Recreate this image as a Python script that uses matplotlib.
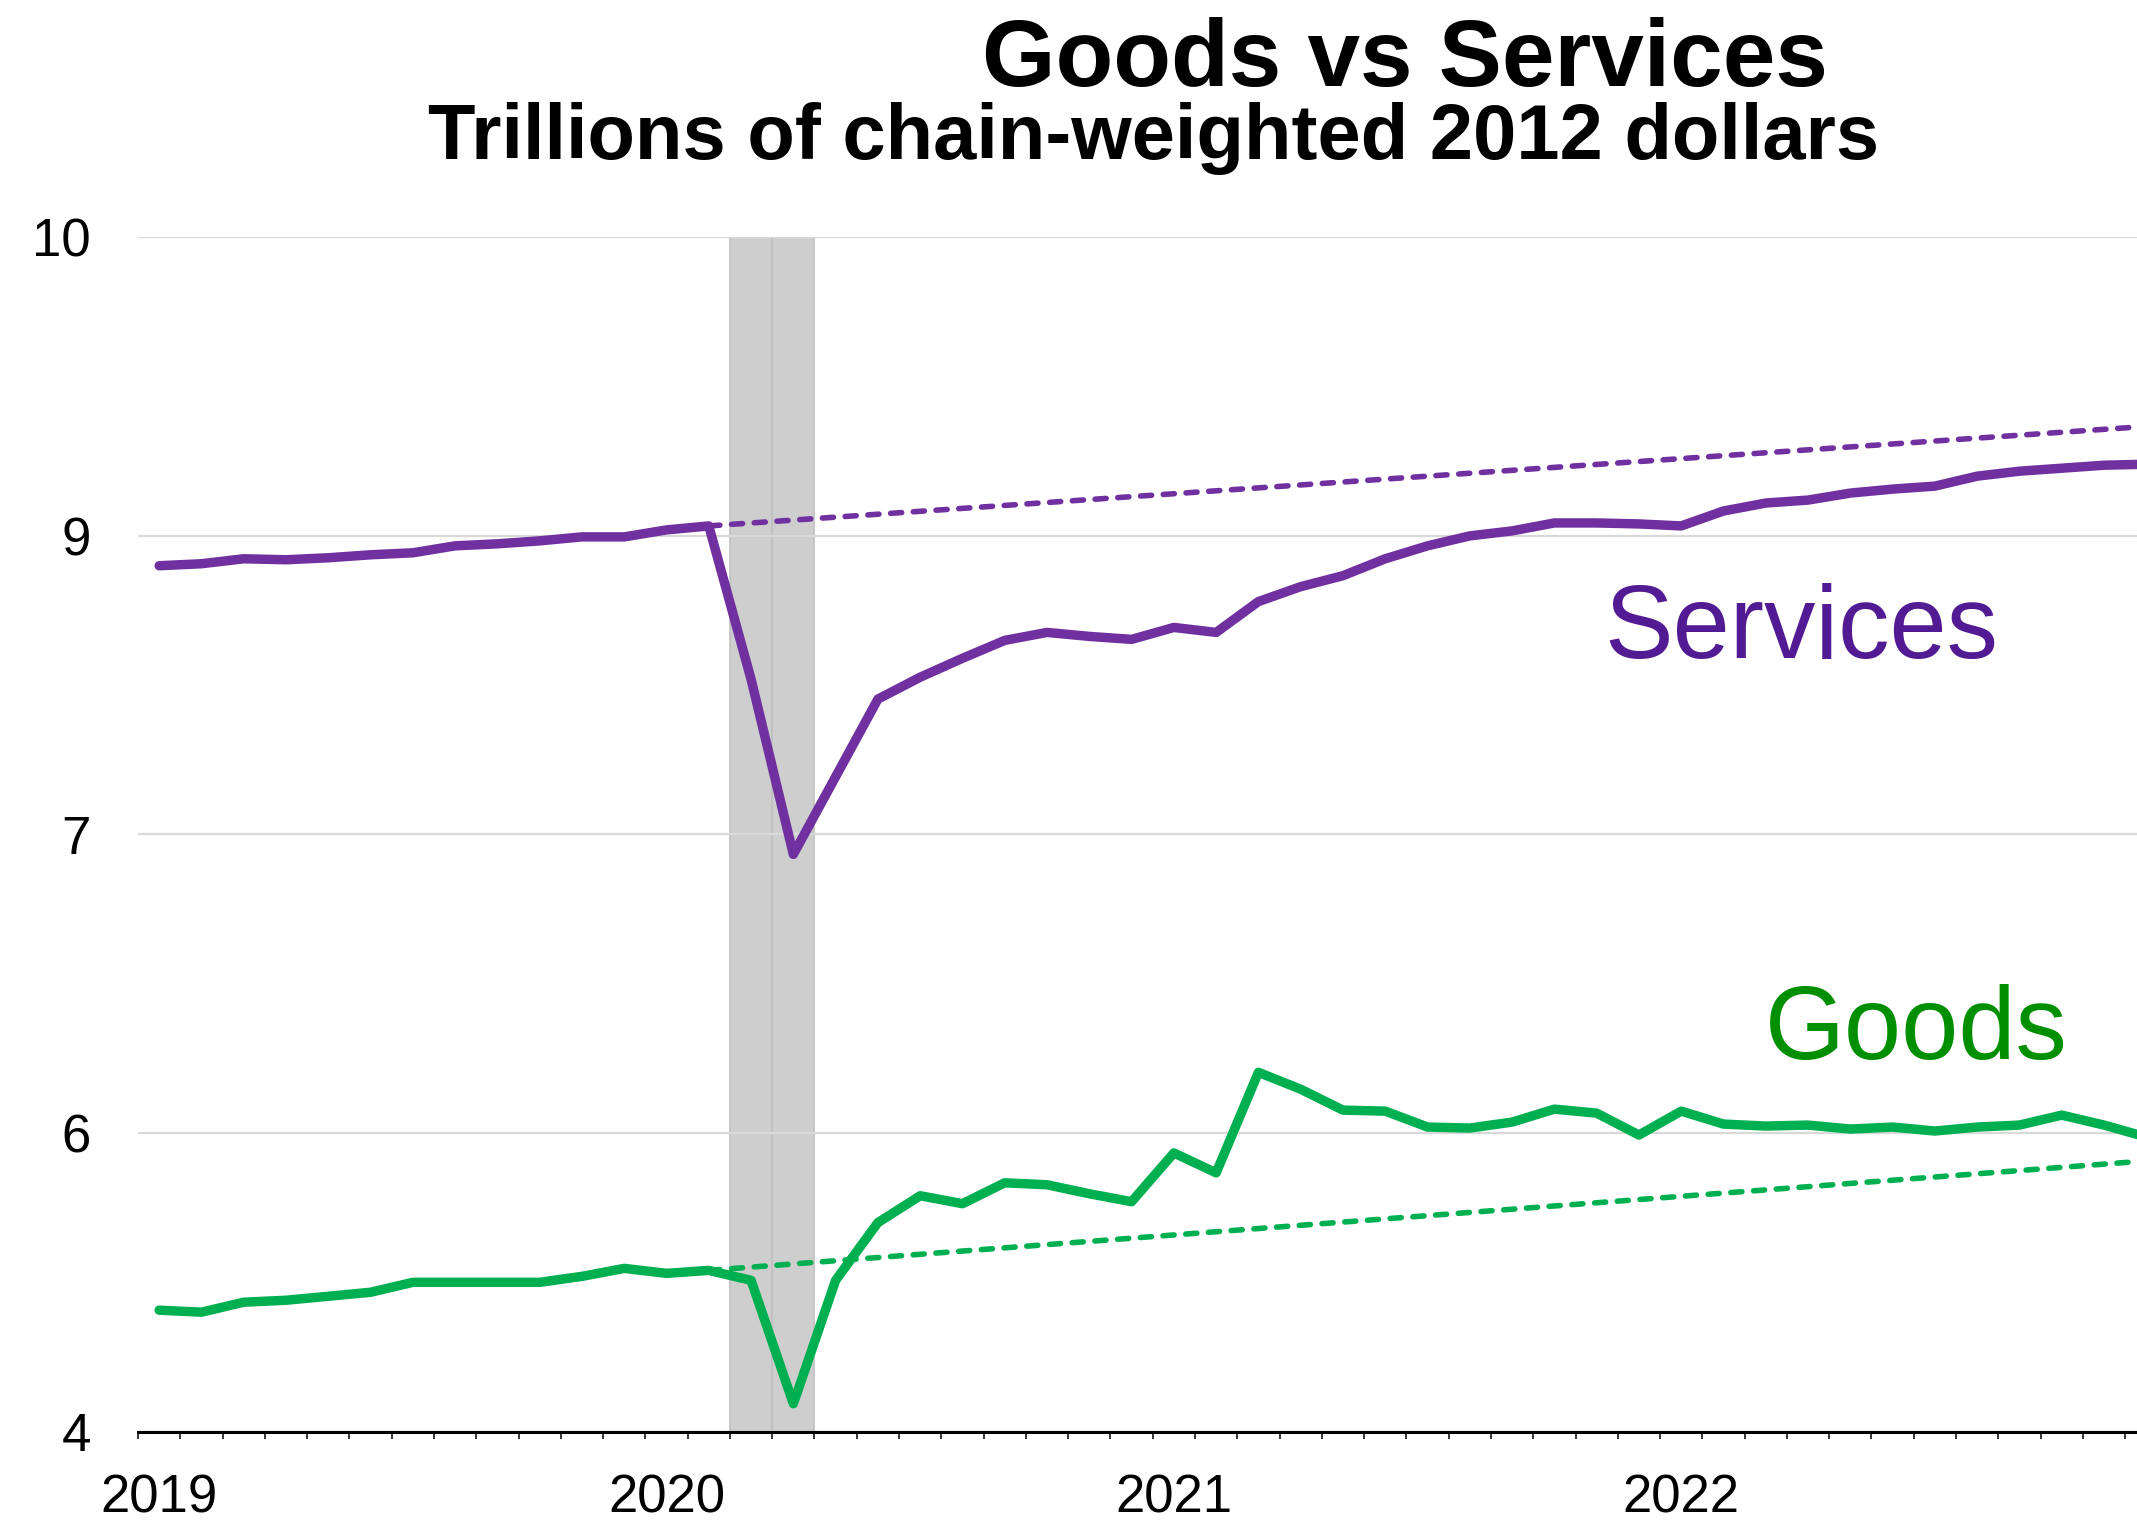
import numpy as np
import matplotlib.pyplot as plt
from matplotlib.ticker import FixedLocator, FuncFormatter

plt.rcParams['font.family'] = ['Liberation Sans', 'DejaVu Sans']

# monthly real PCE, Jan 2019 - Dec 2022, trillions of chained 2012 dollars
months = np.arange(48)
year_labels = ['2019', '2020', '2021', '2022']
year_pos = [0, 12, 24, 36]

services = [8.35, 8.36, 8.385, 8.38, 8.39, 8.405, 8.415, 8.45, 8.46, 8.475, 8.495, 8.495,
            8.53, 8.55, 7.78, 6.90, 7.29, 7.68, 7.79, 7.885, 7.975, 8.015, 7.995, 7.98,
            8.04, 8.015, 8.17, 8.245, 8.30, 8.385, 8.45, 8.50, 8.525, 8.565, 8.565, 8.56,
            8.55, 8.625, 8.665, 8.68, 8.715, 8.735, 8.75, 8.80, 8.825, 8.84, 8.855, 8.86]

goods = [4.61, 4.60, 4.65, 4.66, 4.68, 4.70, 4.75, 4.75, 4.75, 4.75, 4.78, 4.82,
         4.795, 4.81, 4.76, 4.14, 4.76, 5.05, 5.185, 5.145, 5.25, 5.24, 5.195, 5.155,
         5.40, 5.30, 5.805, 5.72, 5.615, 5.61, 5.53, 5.525, 5.555, 5.62, 5.60, 5.49,
         5.61, 5.545, 5.535, 5.54, 5.52, 5.53, 5.51, 5.53, 5.54, 5.59, 5.54, 5.48]

# pre-pandemic trend lines, Feb 2020 -> Dec 2022
trend_x = [13, 47]
services_trend = [8.55, 9.05]
goods_trend = [4.81, 5.36]

# recession months (Mar, Apr 2020)
recession = [14, 15]

svc_color = '#7030a0'
gds_color = '#00b050'

fig = plt.figure(figsize=(21.37, 15.3), dpi=100)
ax = fig.add_axes([0.06458, 0.06431, 0.93542, 0.78059])

for m in recession:
    ax.axvspan(m - 0.5, m + 0.5, color='#cecece', ec='#c0c0c0', lw=1.2, zorder=0.5)

ax.plot(trend_x, services_trend, color=svc_color, lw=4, dashes=(2, 2.1),
        dash_capstyle='round', zorder=2)
ax.plot(trend_x, goods_trend, color=gds_color, lw=4, dashes=(2, 2.1),
        dash_capstyle='round', zorder=2)
ax.plot(months, services, color=svc_color, lw=6.8, solid_capstyle='round',
        solid_joinstyle='round', zorder=3)
ax.plot(months, goods, color=gds_color, lw=6.8, solid_capstyle='round',
        solid_joinstyle='round', zorder=3)

ax.text(34.19, 7.886, 'Services', color='#531b93', fontsize=74, va='baseline')
ax.text(37.97, 5.872, 'Goods', color='#008f00', fontsize=74, va='baseline')

ax.set_xlim(-0.5, 46.78)
ax.set_ylim(4, 10)

ax.yaxis.set_major_locator(FixedLocator([4, 5.5, 7, 8.5, 10]))
ax.yaxis.set_major_formatter(FuncFormatter(lambda v, pos: str(int(v + 0.5))))
ax.grid(axis='y', color='#d9d9d9', lw=1.6, zorder=1)
ax.set_axisbelow(True)

ax.set_xticks(year_pos)
ax.set_xticklabels(year_labels)
ax.set_xticks(np.arange(-0.5, 47, 1), minor=True)
ax.tick_params(axis='x', which='major', length=0, pad=30, labelsize=38)
ax.tick_params(axis='x', which='minor', length=5, width=1.1, color='black', direction='out')
ax.tick_params(axis='y', length=0, pad=34, labelsize=38)

for side in ['left', 'right', 'top']:
    ax.spines[side].set_visible(False)
ax.spines['bottom'].set_linewidth(2.2)
ax.spines['bottom'].set_color('black')

fig.text(0.6575, 0.9438, 'Goods vs Services', ha='center', va='baseline',
         fontsize=68, fontweight='bold')
fig.text(0.540, 0.8958, 'Trillions of chain-weighted 2012 dollars', ha='center',
         va='baseline', fontsize=56, fontweight='bold')

fig.savefig('out.png', dpi=100)
